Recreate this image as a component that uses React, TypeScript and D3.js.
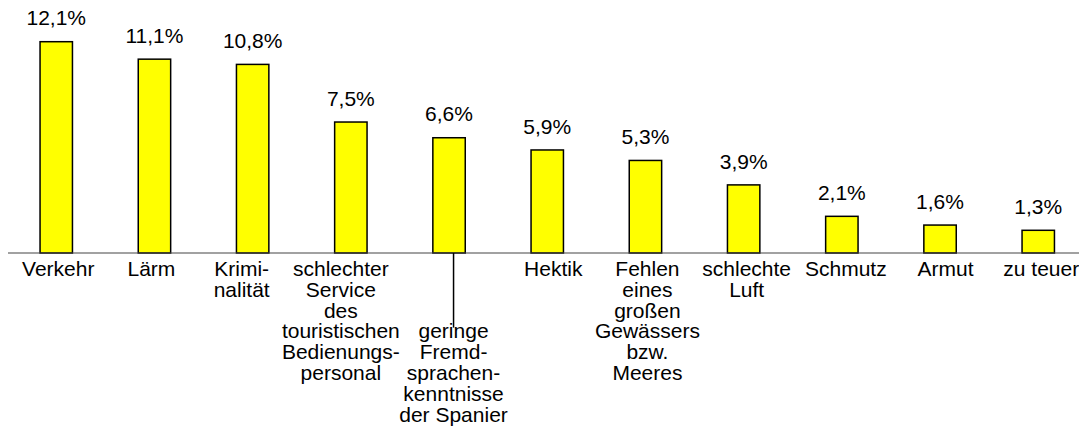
import React from "react";
import * as d3 from "d3";

const categories = [
  "Verkehr",
  "Lärm",
  "Kriminalität",
  "schlechter Service des touristischen Bedienungspersonal",
  "geringe Fremdsprachenkenntnisse der Spanier",
  "Hektik",
  "Fehlen eines großen Gewässers bzw. Meeres",
  "schlechte Luft",
  "Schmutz",
  "Armut",
  "zu teuer",
];

const values = [12.1, 11.1, 10.8, 7.5, 6.6, 5.9, 5.3, 3.9, 2.1, 1.6, 1.3];

const valueLabels = ["12,1%", "11,1%", "10,8%", "7,5%", "6,6%", "5,9%", "5,3%", "3,9%", "2,1%", "1,6%", "1,3%"];

const labelLines = [
  ["Verkehr"],
  ["Lärm"],
  ["Krimi-", "nalität"],
  ["schlechter", "Service", "des", "touristischen", "Bedienungs-", "personal"],
  ["geringe", "Fremd-", "sprachen-", "kenntnisse", "der Spanier"],
  ["Hektik"],
  ["Fehlen", "eines", "großen", "Gewässers", "bzw.", "Meeres"],
  ["schlechte", "Luft"],
  ["Schmutz"],
  ["Armut"],
  ["zu teuer"],
];

// layout tweaks (not data)
const labelNudge = [2, -3, -11, -10, 4.5, 6, 2, 3, 4, 5.5, 3];
const labelStartLine = [0, 0, 0, 0, 3, 0, 0, 0, 0, 0, 0];

const W = 1079;
const H = 430;
const baseY = 253;
const font = "'Liberation Sans', Arial, Helvetica, sans-serif";
const fs = 21;
const lineH = 20.8;
const firstBaseline = 276;

export default function App() {
  const x = d3
    .scaleBand<string>()
    .domain(categories)
    .range([7.15, 7.15 + 98.2 * 11])
    .paddingInner(0.67)
    .paddingOuter(0.335);
  const y = d3.scaleLinear().domain([0, 12.1]).range([baseY, 41.7]);
  const bw = x.bandwidth();

  return (
    <svg
      width={W}
      height={H}
      style={{ position: "absolute", left: 0, top: 0, background: "#fff" }}
      fontFamily={font}
    >
      <rect x={0} y={0} width={W} height={H} fill="#fff" />
      {categories.map((c, i) => {
        const x0 = x(c)!;
        const cx = x0 + bw / 2;
        return (
          <g key={c}>
            <rect
              x={x0}
              y={y(values[i])}
              width={bw}
              height={baseY - y(values[i])}
              fill="#FFFF00"
              stroke="#000"
              strokeWidth={1.5}
            />
            <text x={cx} y={y(values[i]) - 16.3} textAnchor="middle" fontSize={fs} fill="#000">
              {valueLabels[i]}
            </text>
          </g>
        );
      })}
      <line x1={8} x2={W} y1={baseY} y2={baseY} stroke="#444" strokeWidth={1.2} />
      {categories.map((c, i) => {
        const cx = x(c)! + bw / 2 + labelNudge[i];
        const start = labelStartLine[i];
        return (
          <g key={"l" + c}>
            {start > 0 && (
              <line
                x1={cx}
                x2={cx}
                y1={baseY}
                y2={firstBaseline + (start - 1) * lineH + 10}
                stroke="#000"
                strokeWidth={1.5}
              />
            )}
            <text textAnchor="middle" fontSize={fs} fill="#000">
              {labelLines[i].map((ln, j) => (
                <tspan key={j} x={cx} y={firstBaseline + (start + j) * lineH}>
                  {ln}
                </tspan>
              ))}
            </text>
          </g>
        );
      })}
    </svg>
  );
}
